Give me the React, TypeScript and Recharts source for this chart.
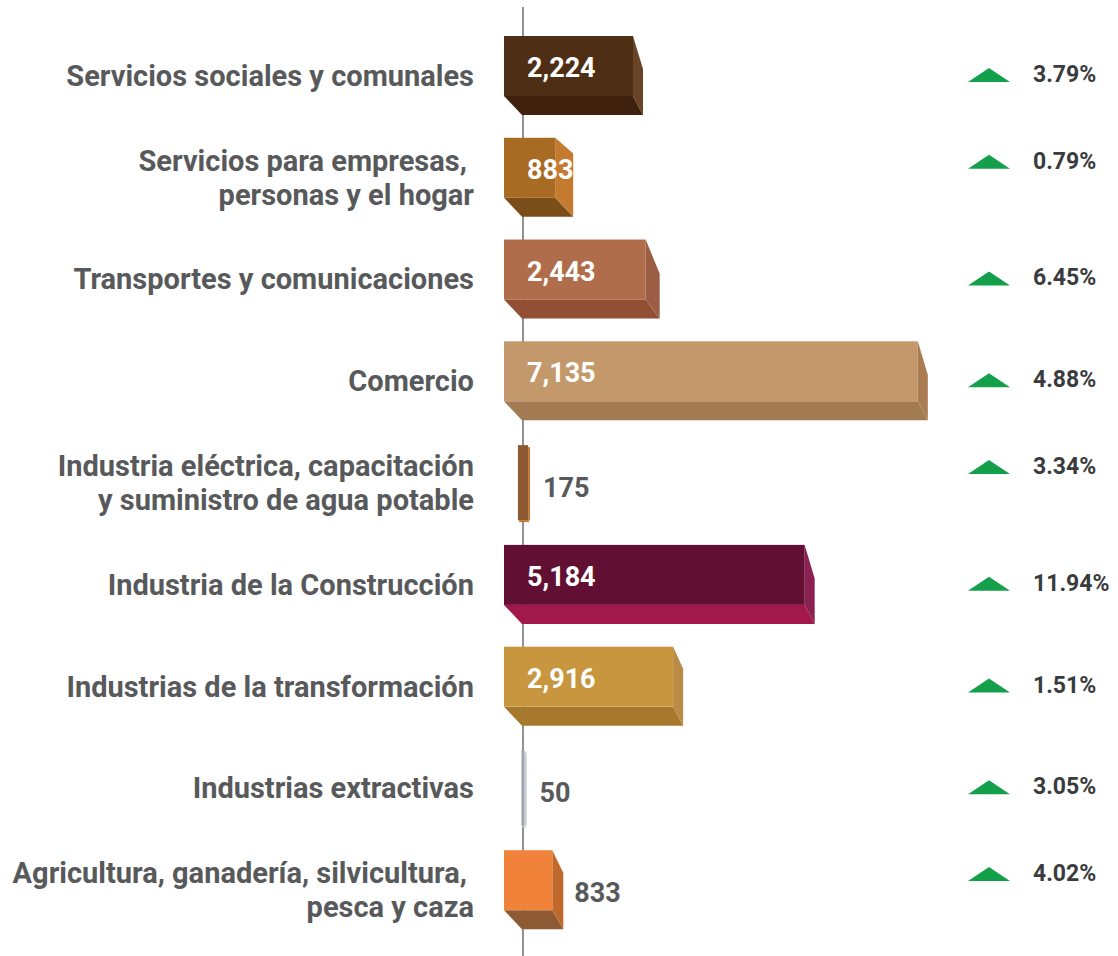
import React from 'react';
import { BarChart, Bar, XAxis, YAxis } from 'recharts';

const categories = [
  'Servicios sociales y comunales',
  'Servicios para empresas, \npersonas y el hogar',
  'Transportes y comunicaciones',
  'Comercio',
  'Industria eléctrica, capacitación\ny suministro de agua potable',
  'Industria de la Construcción',
  'Industrias de la transformación',
  'Industrias extractivas',
  'Agricultura, ganadería, silvicultura, \npesca y caza',
];
const values = [2224, 883, 2443, 7135, 175, 5184, 2916, 50, 833];
const growth = ['3.79%', '0.79%', '6.45%', '4.88%', '3.34%', '11.94%', '1.51%', '3.05%', '4.02%'];

const palette = [
  { front: '#4e2f16', bottom: '#40210d', side: '#6a4427', sdx: 10, slant: 0.55 },
  { front: '#a86b23', bottom: '#7b4d18', side: '#c47b30', sdx: 18, slant: 0.26 },
  { front: '#b06d4c', bottom: '#934f33', side: '#9b5e45', sdx: 14, slant: 0.57 },
  { front: '#c3996b', bottom: '#a37b52', side: '#a97d51', sdx: 10, slant: 0.56 },
  { front: '#8b5a32', bottom: '#c07a3a', side: '#c07a3a', sdx: 0, slant: 0 },
  { front: '#611034', bottom: '#a3184b', side: '#8b2152', sdx: 10, slant: 0.56 },
  { front: '#c8963f', bottom: '#a6792d', side: '#b98b44', sdx: 10, slant: 0.37 },
  { front: '#9ea4ad', bottom: '#c4c8ce', side: '#c4c8ce', sdx: 0, slant: 0 },
  { front: '#f0823a', bottom: '#8e5a33', side: '#c0692d', sdx: 11, slant: 0.38 },
];

const data = categories.map((name, i) => ({ name, value: values[i], pct: growth[i] }));

const FONT = 'Roboto, "Noto Sans", sans-serif';
const LABEL_GRAY = '#58595b';
const DEPTH = 19;
const GAP = 11.5;

const Bar3D = (props: any) => {
  const { x, y, width, height, index } = props;
  const v = values[index];
  const c = palette[index];
  const label = v.toLocaleString('en-US');
  const cy = y + height / 2;
  const lx0 = x + DEPTH;
  const segTop = index === 0 ? 7 : y - GAP;
  const segBottom = index === values.length - 1 ? 956 : y + height + GAP;
  const axisSeg = <line x1={lx0} y1={segTop} x2={lx0} y2={segBottom} stroke="#6d6e70" strokeWidth={1.5} />;
  if (width < 15) {
    const w = Math.max(width, 3);
    const lx = x + DEPTH - w / 2;
    const top = y + 2;
    const h = height - 4;
    return (
      <g>
        {axisSeg}
        <rect x={lx} y={top} width={w} height={h} fill={c.front} />
        <rect x={lx + w} y={top + 2} width={2} height={h - 2} fill={c.side} />
        <rect x={lx + 1} y={top + h} width={w} height={2} fill={c.bottom} />
        <text x={lx + w + 15} y={cy + 5} dominantBaseline="central" fontFamily={FONT} fontWeight={700} fontSize={27} fill={LABEL_GRAY}>{label}</text>
      </g>
    );
  }
  const fh = height - DEPTH;
  const sdx = c.sdx;
  const r = x + width;
  const bottomPts = `${x},${y + fh} ${r},${y + fh} ${r + sdx},${y + height} ${x + 18},${y + height}`;
  const sidePts = `${r},${y} ${r + sdx},${y + fh * c.slant} ${r + sdx},${y + height} ${r},${y + fh}`;
  const outside = v < 850;
  return (
    <g>
      {axisSeg}
      <polygon points={bottomPts} fill={c.bottom} />
      <polygon points={sidePts} fill={c.side} />
      <rect x={x} y={y} width={width} height={fh} fill={c.front} />
      {outside ? (
        <text x={r + sdx + 11} y={cy + 3} dominantBaseline="central" fontFamily={FONT} fontWeight={700} fontSize={27} fill={LABEL_GRAY}>{label}</text>
      ) : (
        <text x={x + 23} y={y + fh / 2 + 2} dominantBaseline="central" fontFamily={FONT} fontWeight={700} fontSize={27} fill="#ffffff">{label}</text>
      )}
    </g>
  );
};

const CategoryTick = (props: any) => {
  const { x, y, payload } = props;
  const lines = String(payload.value).split('\n');
  const start = lines.length > 1 ? y - 17 : y;
  return (
    <text x={x} y={start} textAnchor="end" fontFamily={FONT} fontWeight={700} fontSize={29} fill={LABEL_GRAY} style={{ whiteSpace: 'pre' }}>
      {lines.map((ln, i) => (
        <tspan key={i} x={x} y={start + i * 34} dominantBaseline="central">{ln}</tspan>
      ))}
    </text>
  );
};

const GrowthTick = (props: any) => {
  const { x, y, payload, index } = props;
  const i = typeof index === 'number' ? index : categories.indexOf(payload.value);
  const multi = String(payload.value).includes('\n');
  const cy = multi ? y - 16 : y - 1;
  const base = cy + 7;
  return (
    <g>
      <polygon points={`${x},${base} ${x + 21},${base - 14} ${x + 42},${base}`} fill="#14a04a" />
      <text x={x + 65} y={base} fontFamily={FONT} fontWeight={700} fontSize={23} fill="#3a3b3d">{growth[i]}</text>
    </g>
  );
};

export default function App() {
  return (
    <div style={{ position: 'absolute', left: 0, top: 0, width: 1118, height: 956, background: '#fff', overflow: 'hidden' }}>
      <BarChart
        width={1118}
        height={956}
        data={data}
        layout="vertical"
        margin={{ top: 25, right: 0, bottom: 15, left: 0 }}
      >
        <XAxis type="number" domain={[0, 8000]} hide />
        <YAxis
          yAxisId="left"
          type="category"
          dataKey="name"
          width={504}
          axisLine={false}
          tickLine={false}
          tickSize={0}
          tickMargin={30}
          interval={0}
          tick={<CategoryTick />}
        />
        <YAxis
          yAxisId="right"
          orientation="right"
          type="category"
          dataKey="name"
          width={150}
          axisLine={false}
          tickLine={false}
          tickSize={0}
          tickMargin={0}
          interval={0}
          tick={<GrowthTick />}
        />
        <Bar yAxisId="left" dataKey="value" barSize={79} shape={<Bar3D />} isAnimationActive={false} />
      </BarChart>
    </div>
  );
}
